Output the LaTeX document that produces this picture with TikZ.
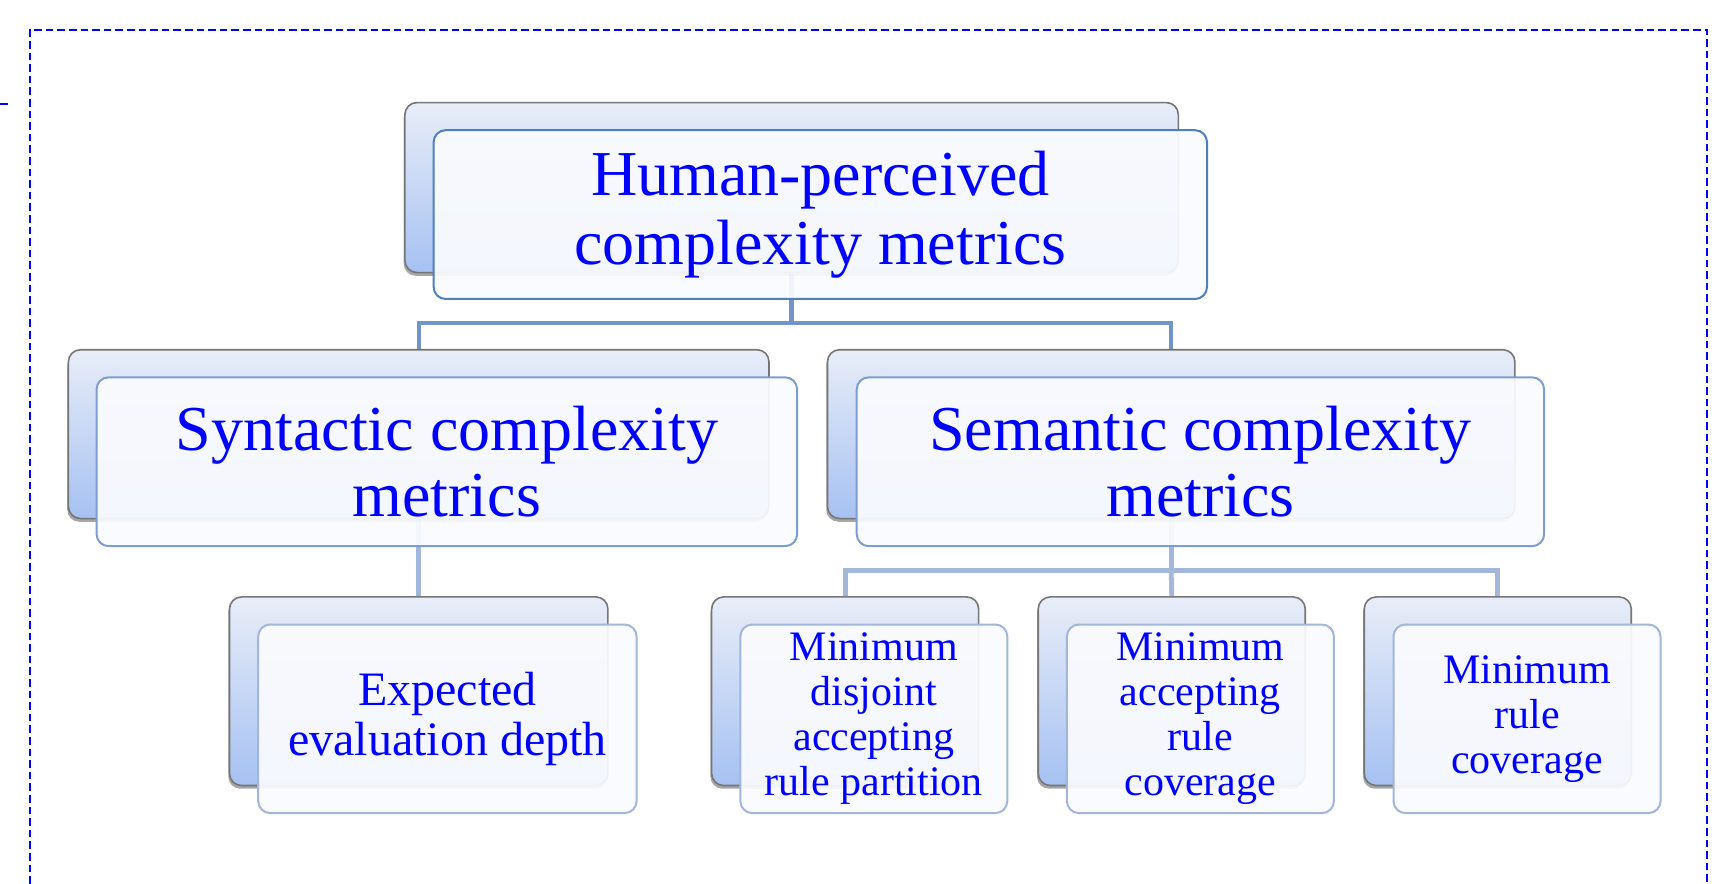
\documentclass[tikz,border=0pt]{standalone}
\usepackage{fontspec}
\setmainfont{Liberation Serif}
\usetikzlibrary{shadows}
\definecolor{backtop}{HTML}{E8EDF8}
\definecolor{backbot}{HTML}{A6C1F2}
\definecolor{backline}{HTML}{767676}
\definecolor{frontfill}{HTML}{FAFBFE}
\definecolor{fline1}{HTML}{4F7FBF}
\definecolor{fline2}{HTML}{7C9DD2}
\definecolor{fline3}{HTML}{A2B6DB}
\definecolor{connA}{HTML}{7295C8}
\definecolor{connB}{HTML}{A3B7DA}
\definecolor{txtblue}{HTML}{0000FF}
\pgfdeclarelayer{bg}
\pgfsetlayers{bg,main}
\tikzset{
  backbox/.style={rectangle, rounded corners=6pt, draw=backline, line width=0.8pt,
    top color=backtop, bottom color=backbot, inner sep=0pt, outer sep=0pt,
    drop shadow={shadow xshift=-0.6pt, shadow yshift=-1.6pt, opacity=0.35, fill=black}},
  frontbox/.style={rectangle, rounded corners=6pt, fill=frontfill, fill opacity=0.93,
    text opacity=1, line width=1pt, inner sep=0pt, outer sep=0pt, align=center, text=txtblue},
  lvlA/.style={frontbox, draw=fline1, font=\fontsize{32}{34.5}\selectfont},
  lvlB/.style={frontbox, draw=fline2, font=\fontsize{32}{33}\selectfont},
  lvlC/.style={frontbox, draw=fline3, font=\fontsize{24}{25}\selectfont},
  lvlD/.style={frontbox, draw=fline3, font=\fontsize{21}{22.5}\selectfont},
  connone/.style={draw=connA, line width=2.2pt},
  conntwo/.style={draw=connB, line width=2.4pt},
  frame/.style={draw=blue, line width=1.1pt, dash pattern=on 3.8pt off 2pt}
}
\begin{document}
\begin{tikzpicture}[x=0.55166pt, y=0.55166pt]
\useasboundingbox (0,0) rectangle (1568,-801);
% dashed frame
\draw[frame] (27,-801) -- (27,-27) -- (1547,-27) -- (1547,-801);
\draw[draw=blue, line width=1pt] (0,-94) -- (7,-94);
% back boxes
\node[backbox, minimum width=386.7pt, minimum height=85pt] (hb) at (717.5,-170) {};
\node[backbox, minimum width=350.3pt, minimum height=84.4pt] (sb) at (379.5,-393.5) {};
\node[backbox, minimum width=343.7pt, minimum height=84.4pt] (mb) at (1061.5,-393.5) {};
\node[backbox, minimum width=189.2pt, minimum height=94.3pt] (eb) at (379.5,-626.5) {};
\node[backbox, minimum width=133.5pt, minimum height=94.3pt] (ab) at (766,-626.5) {};
\node[backbox, minimum width=133.5pt, minimum height=94.3pt] (bb) at (1062,-626.5) {};
\node[backbox, minimum width=133.5pt, minimum height=94.3pt] (cb) at (1357.5,-626.5) {};
% front boxes
\node[lvlA, minimum width=386.7pt, minimum height=84.4pt] (h) at (743.5,-194.5) {Human-perceived\\complexity metrics};
\node[lvlB, minimum width=350.3pt, minimum height=84.4pt] (s) at (405,-418.5) {Syntactic complexity\\metrics};
\node[lvlB, minimum width=343.7pt, minimum height=84.4pt] (m) at (1088,-418.5) {Semantic complexity\\metrics};
\node[lvlC, minimum width=189.2pt, minimum height=94.3pt] (e) at (405.5,-651.5) {Expected\\evaluation depth};
\node[lvlD, minimum width=133.5pt, minimum height=94.3pt] (a) at (792,-651.5) {Minimum\\disjoint\\accepting\\rule partition};
\node[lvlD, minimum width=133.5pt, minimum height=94.3pt] (b) at (1088,-651.5) {Minimum\\accepting\\rule\\coverage};
\node[lvlD, minimum width=133.5pt, minimum height=94.3pt] (c) at (1384,-651.5) {Minimum\\rule\\coverage};
% connectors
\coordinate (j1) at (717.5,-293);
\coordinate (j2) at (1061.5,-517);
\begin{pgfonlayer}{bg}
\draw[connone] (hb.south) -- (j1);
\draw[connone] (sb.north) |- (j1);
\draw[connone] (mb.north) |- (j1);
\draw[conntwo] (sb.south) -- (eb.north);
\draw[conntwo] (mb.south) -- (j2);
\draw[conntwo] (ab.north) |- (j2);
\draw[conntwo] (bb.north) -- (j2);
\draw[conntwo] (cb.north) |- (j2);
\end{pgfonlayer}
\end{tikzpicture}
\end{document}
